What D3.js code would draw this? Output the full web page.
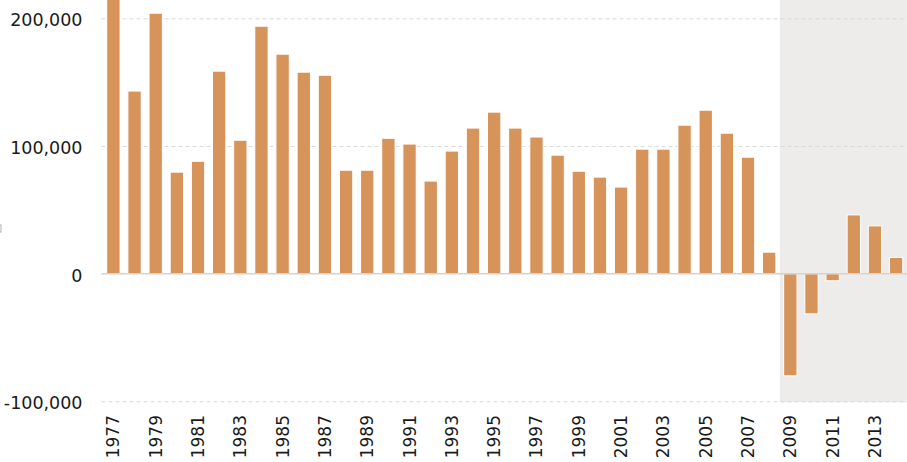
<!DOCTYPE html>
<html>
<head>
<meta charset="utf-8">
<script src="https://cdn.jsdelivr.net/npm/d3@7"></script>
<style>
  html, body { margin: 0; padding: 0; background: #fff; }
  svg { display: block; }
</style>
</head>
<body>
<svg id="chart" width="907" height="462"></svg>
<script>
const years = d3.range(1977, 2015).map(String);
const values = [
  220000, 143000, 204000, 79500, 88000, 158600, 104500, 193800, 171900, 157800,
  155400, 81000, 81000, 106000, 101500, 72500, 96000, 114000, 126500, 114000,
  107000, 92800, 80200, 75600, 67800, 97500, 97500, 116300, 128000, 110000,
  91200, 16800, -80000, -31500, -5600, 46000, 37400, 12700
];
const yTicks = [-100000, 0, 100000, 200000];
const labelYears = years.filter(y => +y % 2 === 1);
const shadedYears = ["2009", "2010", "2011", "2012", "2013", "2014"];

const W = 907, H = 462;
const svg = d3.select("#chart");

const x = d3.scaleBand().domain(years).range([102.5, 907])
  .paddingInner(0.37).paddingOuter(0.2);
const y = d3.scaleLinear().domain([-100000, 200000]).range([401.3, 18.3]);

// shaded recession/forecast region
const shadeX0 = x(shadedYears[0]) - x.step() * x.paddingInner() / 2;
svg.append("rect")
  .attr("x", shadeX0).attr("y", 0)
  .attr("width", W - shadeX0).attr("height", y(-100000) + 1)
  .attr("fill", "#eeecea");

// gridlines
const yAxisGrid = d3.axisLeft(y).tickValues(yTicks.filter(d => d !== 0))
  .tickSize(-(W - 101.5)).tickFormat("");
svg.append("g").attr("transform", "translate(101.5,0)")
  .call(yAxisGrid)
  .call(g => g.select(".domain").remove())
  .call(g => g.selectAll("line")
    .attr("stroke", "#d9d9d9").attr("stroke-width", 1)
    .attr("stroke-dasharray", "4,3"));

// bars
const clip = svg.append("clipPath").attr("id", "plotclip");
clip.append("rect").attr("x", 0).attr("y", 0).attr("width", W).attr("height", H);

svg.append("g").attr("clip-path", "url(#plotclip)")
  .selectAll("rect.bar")
  .data(years.map((yr, i) => ({ yr, v: values[i] })))
  .join("rect")
  .attr("class", "bar")
  .attr("x", d => x(d.yr))
  .attr("width", x.bandwidth())
  .attr("y", d => y(Math.max(0, d.v)))
  .attr("height", d => Math.abs(y(d.v) - y(0)))
  .attr("fill", "#d6935a")
  .attr("stroke", "#ffffff")
  .attr("stroke-width", 1);

// zero line
svg.append("line")
  .attr("x1", 101.5).attr("x2", W)
  .attr("y1", y(0)).attr("y2", y(0))
  .attr("stroke", "#d3d3d3").attr("stroke-width", 1.5);

// y tick labels
const fmt = d3.format(",");
const yAxis = d3.axisLeft(y).tickValues(yTicks).tickSize(0).tickPadding(0)
  .tickFormat(d => fmt(d).replace("−", "-"));
svg.append("g").attr("transform", "translate(82.5,2)")
  .call(yAxis)
  .call(g => g.select(".domain").remove())
  .call(g => g.selectAll("text")
    .attr("font-family", "'DejaVu Sans', sans-serif")
    .attr("font-size", "17.5px")
    .attr("fill", "#1a1a1a"));

// x tick labels (odd years, rotated)
const xAxis = d3.axisBottom(x).tickValues(labelYears).tickSize(0).tickPadding(0);
svg.append("g").attr("transform", "translate(0,415)")
  .call(xAxis)
  .call(g => g.select(".domain").remove())
  .call(g => g.selectAll("text")
    .attr("font-family", "'DejaVu Sans', sans-serif")
    .attr("font-size", "17px")
    .attr("fill", "#1a1a1a")
    .attr("text-anchor", "end")
    .attr("transform", "rotate(-90)")
    .attr("x", 0).attr("y", 0).attr("dy", "0.35em"));

// tiny clipped axis-title artifact at left edge
svg.append("rect")
  .attr("x", -4).attr("y", 225).attr("width", 5).attr("height", 7)
  .attr("fill", "none").attr("stroke", "#b0b0b0").attr("stroke-width", 1);
</script>
</body>
</html>
